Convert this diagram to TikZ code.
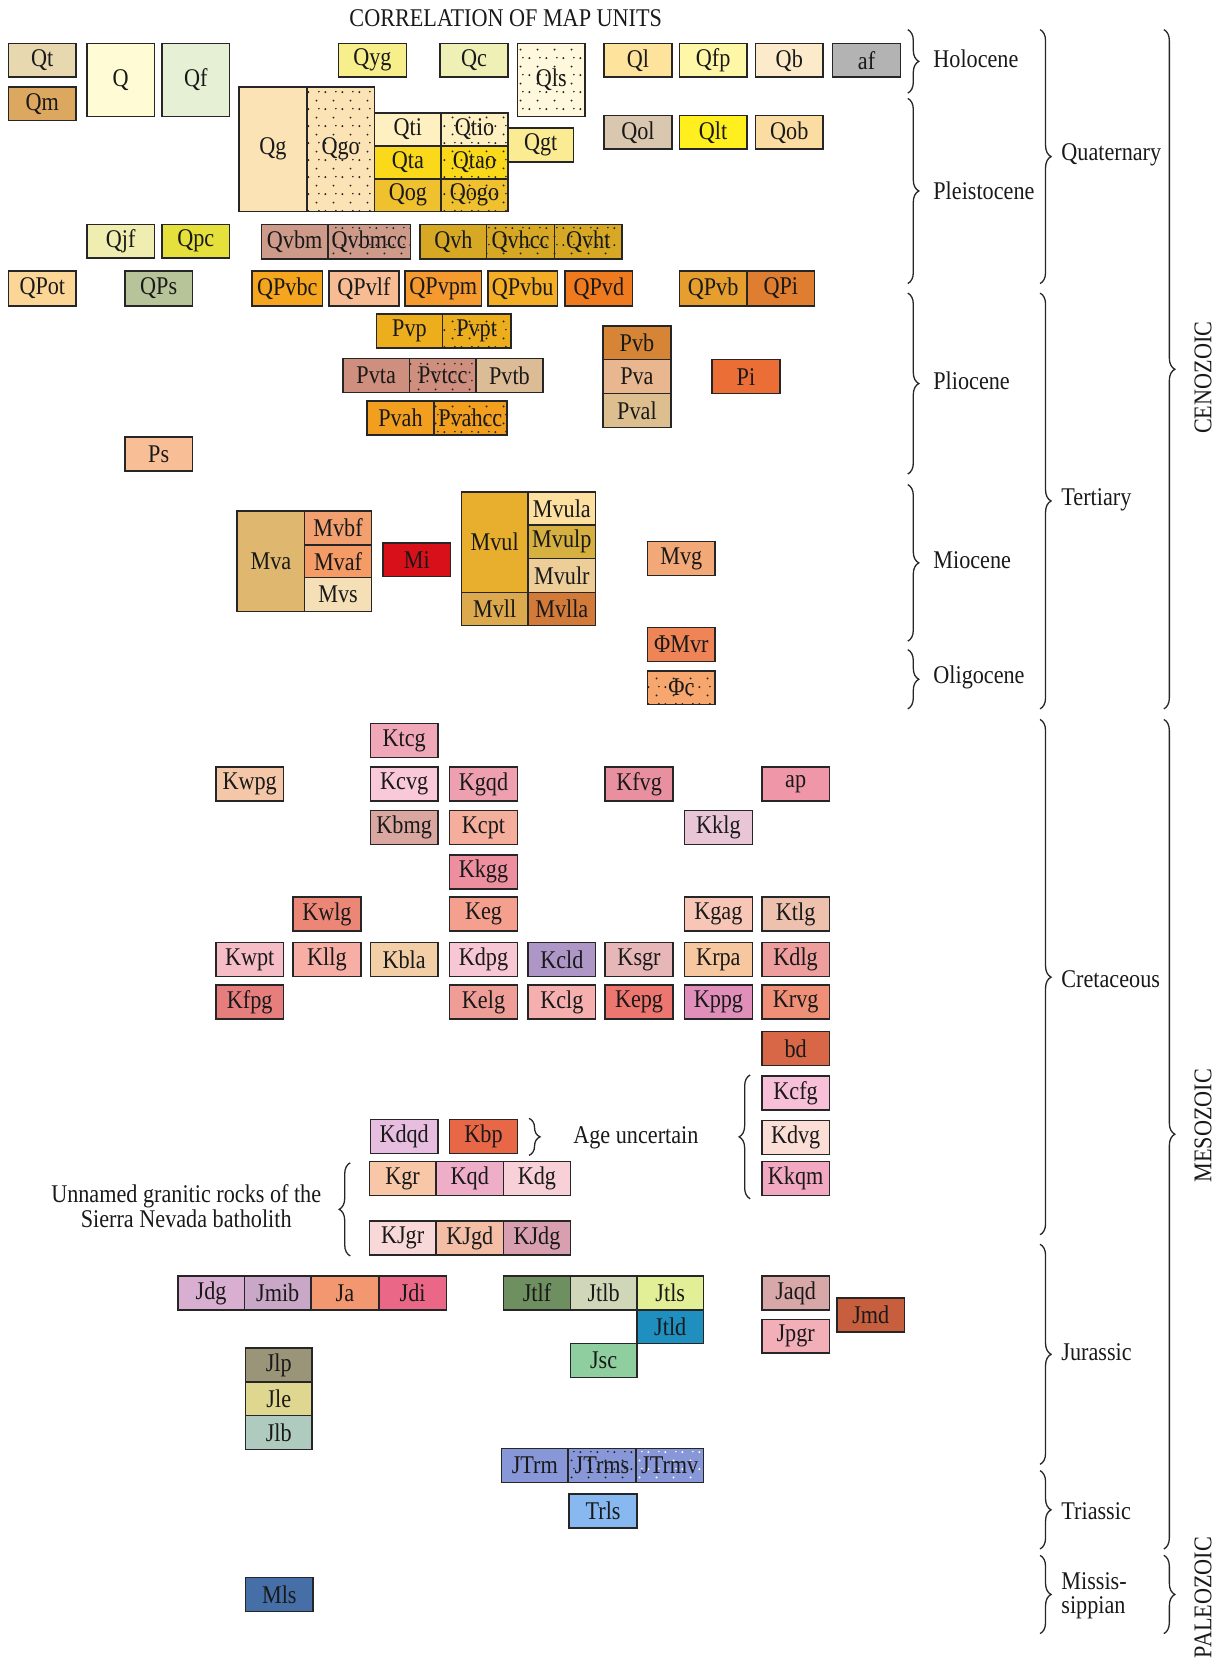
\documentclass[tikz,border=0pt]{standalone}
\usepackage{fontspec}
\setmainfont{Liberation Serif}[FakeStretch=0.87]
\usetikzlibrary{patterns,decorations.pathreplacing}
\pgfdeclarepatternformonly{sparsedots}{\pgfqpoint{0pt}{0pt}}{\pgfqpoint{17pt}{17pt}}{\pgfqpoint{17pt}{17pt}}{%
  \pgfpathcircle{\pgfqpoint{2.5pt}{3pt}}{1.1pt}%
  \pgfpathcircle{\pgfqpoint{11pt}{12pt}}{1.1pt}%
  \pgfpathcircle{\pgfqpoint{13.5pt}{3.5pt}}{0.9pt}%
  \pgfusepath{fill}}
\newcommand\gbox[8][]{%
  \definecolor{c#2}{HTML}{#7}%
  \node[unit,fill=c#2,#1,minimum width={(#5-#3)*1.0579pt},minimum height={(#6-#4)*1.0579pt}] (#2) at ({(#3+#5)/2},{(#4+#6)/2}) {#8};}
\begin{document}
\begin{tikzpicture}[x=1.0579pt,y=-1.0579pt,
  unit/.style={draw=black!85,line width=1.5pt,inner sep=0pt,font=\fontsize{25.5}{26}\selectfont,text=black!90},
  dotfill/.style={postaction={pattern=sparsedots,pattern color=black!85}},
  wdotfill/.style={postaction={pattern=sparsedots,pattern color=white}},
  lbl/.style={font=\fontsize{25.5}{24.5}\selectfont,inner sep=0pt,text=black!90},
  brc/.style={draw=black!85,line width=1.3pt,decorate,decoration={brace,amplitude=11pt}}]
\useasboundingbox (0,0) rectangle (1158,1568);
\node[lbl] (title) at (478,17) {CORRELATION OF MAP UNITS};
% Holocene
\gbox{Qt}{8}{41}{72}{73}{E8D8B0}{Qt}
\gbox{Qm}{8}{82}{72}{114}{DCA860}{Qm}
\gbox{Q}{82}{41}{146}{110}{FFFBD5}{Q}
\gbox{Qf}{153}{41}{217}{110}{E6F0D5}{Qf}
\gbox{Qyg}{320}{41}{384}{73}{F7EF8C}{Qyg}
\gbox{Qc}{416}{41}{480}{73}{EEF0B5}{Qc}
\gbox[dotfill]{Qls}{489}{41}{553}{110}{FFF8DD}{Qls}
\gbox{Ql}{571}{41}{635}{73}{FDE39C}{Ql}
\gbox{Qfp}{642}{41}{706}{73}{FFF7A8}{Qfp}
\gbox{Qb}{714}{41}{778}{73}{FCEBCB}{Qb}
\gbox{af}{787}{41}{851}{73}{B3B3B3}{af}
% Pleistocene
\gbox{Qg}{226}{82}{290}{200}{FBE3B5}{Qg}
\gbox[dotfill]{Qgo}{290}{82}{354}{200}{FBE3B5}{Qgo}
\gbox{Qti}{354}{107}{417}{138}{FFF0C2}{Qti}
\gbox[dotfill]{Qtio}{417}{107}{480}{138}{FFF0C2}{Qtio}
\gbox{Qta}{354}{138}{417}{169}{F9D91A}{Qta}
\gbox[dotfill]{Qtao}{417}{138}{480}{169}{F9D91A}{Qtao}
\gbox{Qog}{354}{169}{417}{200}{EFC12E}{Qog}
\gbox[dotfill]{Qogo}{417}{169}{480}{200}{EFC12E}{Qogo}
\gbox{Qgt}{480}{121}{542}{153}{FBEC94}{Qgt}
\gbox{Qol}{571}{109}{635}{141}{D9C7AF}{Qol}
\gbox{Qlt}{642}{109}{706}{141}{FFEF1E}{Qlt}
\gbox{Qob}{714}{109}{778}{141}{FBDDA3}{Qob}
\gbox{Qjf}{82}{212}{146}{244}{EFEEB0}{Qjf}
\gbox{Qpc}{153}{212}{217}{244}{E5E03C}{Qpc}
\gbox{Qvbm}{247}{212}{310}{245}{CE9A8A}{Qvbm}
\gbox[dotfill]{Qvbmcc}{310}{212}{388}{245}{CE9A8A}{Qvbmcc}
\gbox{Qvh}{397}{212}{460}{245}{D6A823}{Qvh}
\gbox[dotfill]{Qvhcc}{460}{212}{524}{245}{D6A823}{Qvhcc}
\gbox[dotfill]{Qvht}{524}{212}{588}{245}{D6A823}{Qvht}
\gbox{QPot}{8}{256}{72}{289}{FBD696}{QPot}
\gbox{QPs}{118}{256}{182}{289}{B7C398}{QPs}
\gbox{QPvbc}{238}{256}{305}{289}{F5A51E}{QPvbc}
\gbox{QPvlf}{311}{256}{377}{289}{F8BC94}{QPvlf}
\gbox{QPvpm}{383}{256}{455}{289}{F49A2E}{QPvpm}
\gbox{QPvbu}{461}{256}{527}{289}{F4AE26}{QPvbu}
\gbox{QPvd}{534}{256}{598}{289}{F07A1E}{QPvd}
\gbox{QPvb}{642}{256}{706}{289}{E69E2E}{QPvb}
\gbox{QPi}{706}{256}{770}{289}{DF7D30}{QPi}
% Pliocene
\gbox{Pvp}{356}{297}{418}{329}{EDAE1E}{Pvp}
\gbox[dotfill]{Pvpt}{418}{297}{483}{329}{EDAE1E}{Pvpt}
\gbox{Pvta}{324}{339}{387}{371}{CF8F7E}{Pvta}
\gbox[dotfill]{Pvtcc}{387}{339}{450}{371}{CF8F7E}{Pvtcc}
\gbox{Pvtb}{450}{339}{513}{371}{DCBB97}{Pvtb}
\gbox{Pvah}{347}{379}{410}{411}{F29E1E}{Pvah}
\gbox[dotfill]{Pvahcc}{410}{379}{479}{411}{F29E1E}{Pvahcc}
\gbox{Pvb}{570}{308}{634}{340}{D68536}{Pvb}
\gbox{Pva}{570}{340}{634}{372}{E9B78F}{Pva}
\gbox{Pval}{570}{372}{634}{404}{DDBF8F}{Pval}
\gbox{Pi}{673}{340}{737}{372}{EA6E35}{Pi}
\gbox{Ps}{118}{413}{182}{445}{F8BE96}{Ps}
% Miocene
\gbox{Mva}{224}{483}{288}{578}{DFB76F}{Mva}
\gbox{Mvbf}{288}{483}{351}{515}{F2A070}{Mvbf}
\gbox{Mvaf}{288}{515}{351}{546}{F49B66}{Mvaf}
\gbox{Mvs}{288}{546}{351}{578}{F4DFB6}{Mvs}
\gbox{Mi}{362}{513}{426}{545}{D8101A}{Mi}
\gbox{Mvul}{436}{465}{499}{560}{E8AF2F}{Mvul}
\gbox{Mvula}{499}{465}{563}{496}{FDE0A0}{Mvula}
\gbox{Mvulp}{499}{496}{563}{528}{D6B040}{Mvulp}
\gbox{Mvulr}{499}{528}{563}{560}{EDCE98}{Mvulr}
\gbox{Mvll}{436}{560}{499}{591}{DCA94F}{Mvll}
\gbox{Mvlla}{499}{560}{563}{591}{D27A3A}{Mvlla}
\gbox{Mvg}{612}{512}{676}{544}{F3A877}{Mvg}
\gbox{OMvr}{612}{593}{676}{625}{EF8556}{ΦMvr}
\gbox[dotfill]{Oc}{612}{634}{676}{666}{F7A66E}{Φc}
% Cretaceous
\gbox{Ktcg}{350}{684}{414}{716}{F0A8B8}{Ktcg}
\gbox{Kwpg}{204}{725}{268}{757}{F3C7A7}{Kwpg}
\gbox{Kcvg}{350}{725}{414}{757}{F9C8D9}{Kcvg}
\gbox{Kgqd}{425}{725}{489}{757}{EE9FB0}{Kgqd}
\gbox{Kfvg}{572}{725}{636}{757}{E890A0}{Kfvg}
\gbox{ap}{720}{725}{784}{757}{EF97A8}{ap}
\gbox{Kbmg}{350}{766}{414}{798}{D9A79F}{Kbmg}
\gbox{Kcpt}{425}{766}{489}{798}{F6AE9C}{Kcpt}
\gbox{Kklg}{647}{766}{711}{798}{E8C6D6}{Kklg}
\gbox{Kkgg}{425}{808}{489}{840}{EE8FA0}{Kkgg}
\gbox{Kwlg}{277}{848}{341}{880}{EC8676}{Kwlg}
\gbox{Keg}{425}{848}{489}{880}{F5A08E}{Keg}
\gbox{Kgag}{647}{848}{711}{880}{F8C6B6}{Kgag}
\gbox{Ktlg}{720}{848}{784}{880}{EEC0AE}{Ktlg}
\gbox{Kwpt}{204}{891}{268}{923}{F7BDC6}{Kwpt}
\gbox{Kllg}{277}{891}{341}{923}{F6AEA5}{Kllg}
\gbox{Kbla}{350}{891}{414}{923}{F2CFA6}{Kbla}
\gbox{Kdpg}{425}{891}{489}{923}{F8C7D6}{Kdpg}
\gbox{Kcld}{499}{891}{563}{923}{AE97C7}{Kcld}
\gbox{Ksgr}{572}{891}{636}{923}{E6B7B6}{Ksgr}
\gbox{Krpa}{647}{891}{711}{923}{F7C8A0}{Krpa}
\gbox{Kdlg}{720}{891}{784}{923}{EF9E9E}{Kdlg}
\gbox{Kfpg}{204}{931}{268}{963}{E77E7E}{Kfpg}
\gbox{Kelg}{425}{931}{489}{963}{EE9E96}{Kelg}
\gbox{Kclg}{499}{931}{563}{963}{F6AFAF}{Kclg}
\gbox{Kepg}{572}{931}{636}{963}{EE7670}{Kepg}
\gbox{Kppg}{647}{931}{711}{963}{DF8FB9}{Kppg}
\gbox{Krvg}{720}{931}{784}{963}{EF8F77}{Krvg}
\gbox{bd}{720}{975}{784}{1007}{D76747}{bd}
\gbox{Kcfg}{720}{1017}{784}{1049}{F7BFD8}{Kcfg}
\gbox{Kdvg}{720}{1059}{784}{1091}{FBDFD6}{Kdvg}
\gbox{Kkqm}{720}{1098}{784}{1130}{F3A8C1}{Kkqm}
\gbox{Kdqd}{350}{1058}{414}{1090}{E8BEE0}{Kdqd}
\gbox{Kbp}{425}{1058}{489}{1090}{E86747}{Kbp}
\gbox{Kgr}{349}{1098}{412}{1130}{F8C7A7}{Kgr}
\gbox{Kqd}{412}{1098}{476}{1130}{EEAEC7}{Kqd}
\gbox{Kdg}{476}{1098}{539}{1130}{F8D0D8}{Kdg}
\gbox{KJgr}{349}{1154}{412}{1186}{F8D8D8}{KJgr}
\gbox{KJgd}{412}{1154}{476}{1186}{F4BEA6}{KJgd}
\gbox{KJdg}{476}{1154}{539}{1186}{D79FB0}{KJdg}
\node[lbl] (ageu) at (601,1075) {Age uncertain};
\node[lbl,align=center] (unnamed) at (176,1140) {Unnamed granitic rocks of the\\Sierra Nevada batholith};
\draw[brc] (500,1057) -- (500,1092);
\draw[brc] (709,1133) -- (709,1016);
\draw[brc] (331,1187) -- (331,1099);
% Jurassic
\gbox{Jdg}{168}{1206}{231}{1238}{D8AFD0}{Jdg}
\gbox{Jmib}{231}{1206}{294}{1238}{C8A7C7}{Jmib}
\gbox{Ja}{294}{1206}{358}{1238}{F39770}{Ja}
\gbox{Jdi}{358}{1206}{422}{1238}{EB6787}{Jdi}
\gbox{Jtlf}{476}{1206}{539}{1238}{6E8F5F}{Jtlf}
\gbox{Jtlb}{539}{1206}{602}{1238}{CFD7B8}{Jtlb}
\gbox{Jtls}{602}{1206}{665}{1238}{E3EF97}{Jtls}
\gbox{Jtld}{602}{1238}{665}{1270}{1F8FBF}{Jtld}
\gbox{Jsc}{539}{1270}{602}{1302}{8FCF9F}{Jsc}
\gbox{Jaqd}{720}{1206}{784}{1238}{D8A8A8}{Jaqd}
\gbox{Jpgr}{720}{1247}{784}{1279}{F3AFB8}{Jpgr}
\gbox{Jmd}{791}{1227}{855}{1259}{C75F3F}{Jmd}
\gbox{Jlp}{232}{1274}{295}{1306}{9A9478}{Jlp}
\gbox{Jle}{232}{1306}{295}{1338}{DFD78F}{Jle}
\gbox{Jlb}{232}{1338}{295}{1370}{AFCBBF}{Jlb}
% Triassic
\gbox{JTrm}{474}{1369}{537}{1401}{8797D7}{JTrm}
\gbox[dotfill]{JTrms}{537}{1369}{601}{1401}{8797D7}{JTrms}
\gbox[wdotfill]{JTrmv}{601}{1369}{665}{1401}{8797D7}{JTrmv}
\gbox{Trls}{538}{1412}{602}{1444}{87B8EF}{Trls}
% Mississippian
\gbox{Mls}{232}{1491}{296}{1523}{476FA7}{Mls}
% epochs
\draw[brc] (858,28) -- (858,88);
\draw[brc] (858,93) -- (858,268);
\draw[brc] (858,277) -- (858,448);
\draw[brc] (858,458) -- (858,606);
\draw[brc] (858,614) -- (858,670);
\node[lbl,anchor=west] (holo) at (882,56) {Holocene};
\node[lbl,anchor=west] (pleis) at (882,180) {Pleistocene};
\node[lbl,anchor=west] (plio) at (882,360) {Pliocene};
\node[lbl,anchor=west] (mio) at (882,529) {Miocene};
\node[lbl,anchor=west] (oligo) at (882,640) {Oligocene};
% periods
\draw[brc] (983,28) -- (983,268);
\draw[brc] (983,277) -- (983,670);
\draw[brc] (983,680) -- (983,1167);
\draw[brc] (983,1176) -- (983,1384);
\draw[brc] (983,1390) -- (983,1464);
\draw[brc] (983,1470) -- (983,1544);
\node[lbl,anchor=west] (quat) at (1003,146) {Quaternary};
\node[lbl,anchor=west] (tert) at (1003,472) {Tertiary};
\node[lbl,anchor=west] (cret) at (1003,925) {Cretaceous};
\node[lbl,anchor=west] (jura) at (1003,1278) {Jurassic};
\node[lbl,anchor=west] (trias) at (1003,1428) {Triassic};
\node[lbl,anchor=west,align=left] (miss) at (1003,1508) {Missis-\\sippian};
% eras
\draw[brc] (1100,28) -- (1100,670);
\draw[brc] (1100,680) -- (1100,1464);
\draw[brc] (1100,1470) -- (1100,1544);
\node[lbl,rotate=90] (ceno) at (1137,357) {CENOZOIC};
\node[lbl,rotate=90] (meso) at (1137,1064) {MESOZOIC};
\node[lbl,rotate=90] (paleo) at (1137,1510) {PALEOZOIC};
\end{tikzpicture}
\end{document}
